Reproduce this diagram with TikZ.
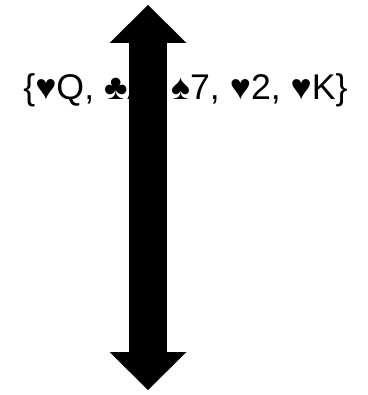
\documentclass[tikz,border=0pt]{standalone}
\usepackage{fontspec}
\setmainfont{Liberation Sans}
\usetikzlibrary{arrows.meta}

\begin{document}
\begin{tikzpicture}[x=1pt, y=1pt, font=\fontsize{35.7}{43}\selectfont]
    \useasboundingbox (0,0) rectangle (367,-395);

    % the hand of cards
    \node[anchor=base, inner sep=0pt] (hand) at (185.5,-100) {\{♥Q, ♣A, ♠7, ♥2, ♥K\}};

    % the thick double arrow, drawn over the text
    \coordinate (top) at (148,-5);
    \coordinate (bottom) at (148,-390);
    \draw[line width=38pt, {Triangle[length=38pt, width=77pt, line width=0pt]}-{Triangle[length=38pt, width=77pt, line width=0pt]}] (top) -- (bottom);
\end{tikzpicture}
\end{document}
